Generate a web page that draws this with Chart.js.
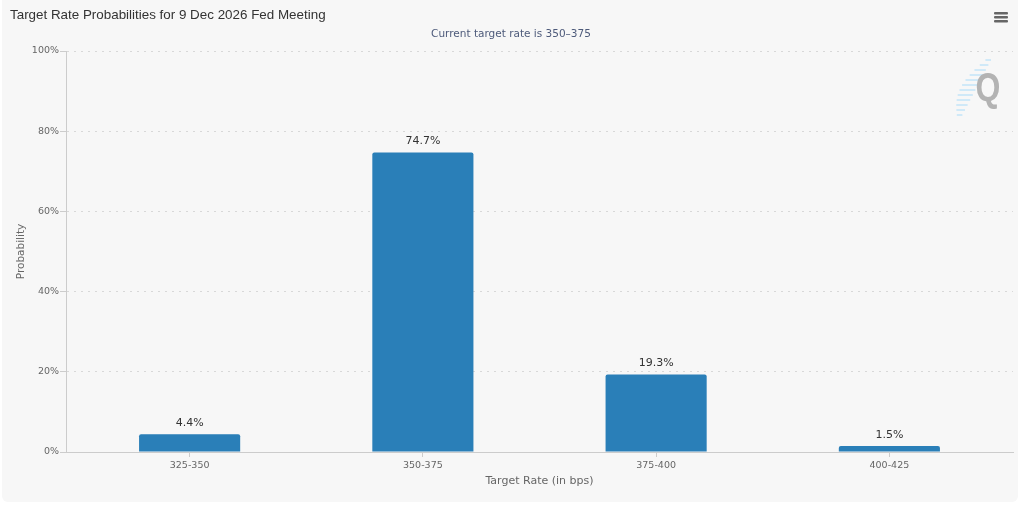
<!DOCTYPE html>
<html>
<head>
<meta charset="utf-8">
<script src="https://cdn.jsdelivr.net/npm/chart.js@4/dist/chart.umd.min.js"></script>
<style>
html,body{margin:0;padding:0;background:#ffffff;}
#wrap{width:1024px;height:508px;position:relative;}
</style>
</head>
<body>
<div id="wrap"><canvas id="c" width="1024" height="508"></canvas></div>
<script>
const categories = ["325-350", "350-375", "375-400", "400-425"];
const probabilities = [4.4, 74.7, 19.3, 1.5];
const yTicks = [0, 20, 40, 60, 80, 100];
const titleText = "Target Rate Probabilities for 9 Dec 2026 Fed Meeting";
const subtitleText = "Current target rate is 350\u2013375";
const xTitle = "Target Rate (in bps)";
const yTitle = "Probability";

const tickFont = {family: "'DejaVu Sans', sans-serif", size: 9.5};

const decor = {
  id: 'decor',
  beforeDraw(chart) {
    const ctx = chart.ctx;
    ctx.save();
    ctx.fillStyle = '#f7f7f7';
    ctx.beginPath();
    ctx.roundRect(2, -6, 1016, 508, 6);
    ctx.fill();
    ctx.restore();
  },
  afterDraw(chart) {
    const ctx = chart.ctx;
    ctx.save();
    // title
    ctx.fillStyle = '#333333';
    ctx.font = "13.4px 'Liberation Sans', Arial, sans-serif";
    ctx.textAlign = 'left';
    ctx.textBaseline = 'middle';
    ctx.fillText(titleText, 10, 15);
    // subtitle
    ctx.fillStyle = '#4d5a7a';
    ctx.font = "10.5px 'DejaVu Sans', sans-serif";
    ctx.textAlign = 'center';
    ctx.fillText(subtitleText, 511, 34);
    // hamburger
    ctx.fillStyle = '#666666';
    for (let i = 0; i < 3; i++) {
      ctx.beginPath();
      ctx.roundRect(994, 12 + i * 4, 14, 2.5, 1);
      ctx.fill();
    }
    // Q logo
    ctx.strokeStyle = 'rgba(135,206,250,0.7)';
    ctx.lineWidth = 1;
    for (let i = 0; i < 12; i++) {
      const y = 60 + i * 5;
      const x1 = 991 - i * 2.6;
      const len = 4 + 12 * Math.sin(Math.PI * (i + 0.5) / 12);
      ctx.beginPath();
      ctx.moveTo(x1 - len, y);
      ctx.lineTo(x1, y);
      ctx.stroke();
    }
    ctx.fillStyle = '#b3b3b3';
    ctx.font = "bold 40px 'Liberation Sans', Arial, sans-serif";
    ctx.textAlign = 'center';
    ctx.textBaseline = 'alphabetic';
    ctx.save();
    ctx.translate(988, 101);
    ctx.scale(0.8, 1);
    ctx.fillText('Q', 0, 0);
    ctx.restore();
    // data labels
    const meta = chart.getDatasetMeta(0);
    ctx.fillStyle = '#333333';
    ctx.font = "11px 'DejaVu Sans', sans-serif";
    ctx.textAlign = 'center';
    ctx.textBaseline = 'middle';
    meta.data.forEach((bar, i) => {
      ctx.fillText(probabilities[i].toFixed(1) + '%', bar.x, bar.y - 11);
    });
    ctx.restore();
  }
};

new Chart(document.getElementById('c'), {
  type: 'bar',
  data: {
    datasets: [{
      data: probabilities.map((v, i) => ({x: i, y: v})),
      backgroundColor: '#2a7fb8',
      borderWidth: 0,
      borderRadius: 2,
      borderSkipped: 'start',
      barPercentage: 0.4335,
      categoryPercentage: 1
    }]
  },
  options: {
    responsive: false,
    animation: false,
    devicePixelRatio: 1,
    layout: {padding: {top: 51, left: 0, right: 11, bottom: 16}},
    plugins: {legend: {display: false}, tooltip: {enabled: false}, title: {display: false}},
    scales: {
      x: {
        type: 'linear',
        offset: false,
        min: -0.53, max: 3.53,
        afterFit(s) { s.height = 40; },
        afterBuildTicks(s) { s.ticks = categories.map((c, i) => ({value: i})); },
        grid: {display: true, drawOnChartArea: false, drawTicks: true, tickLength: 5, offset: false, color: '#cccccc', tickColor: '#cccccc'},
        border: {display: true, color: '#cccccc', width: 1},
        ticks: {color: '#666666', font: tickFont, padding: 3, autoSkip: false, maxRotation: 0, callback: v => categories[v]},
        title: {display: true, text: xTitle, color: '#666666', font: {family: "'DejaVu Sans', sans-serif", size: 11}, padding: {top: 4}}
      },
      y: {
        min: 0, max: 100,
        afterFit(s) { s.width = 66; },
        afterBuildTicks(s) { s.ticks = yTicks.map(v => ({value: v})); },
        grid: {color: '#d8d8d8', lineWidth: 1, tickLength: 6, tickColor: '#cccccc', tickBorderDash: [1, 0]},
        border: {display: true, color: '#cccccc', width: 1, dash: [2, 5]},
        ticks: {color: '#666666', font: tickFont, padding: 1, callback: v => v + '%'},
        title: {display: true, text: yTitle, color: '#666666', font: {family: "'DejaVu Sans', sans-serif", size: 10.5}, padding: {top: 15, bottom: 0}}
      }
    }
  },
  plugins: [decor]
});
</script>
</body>
</html>
